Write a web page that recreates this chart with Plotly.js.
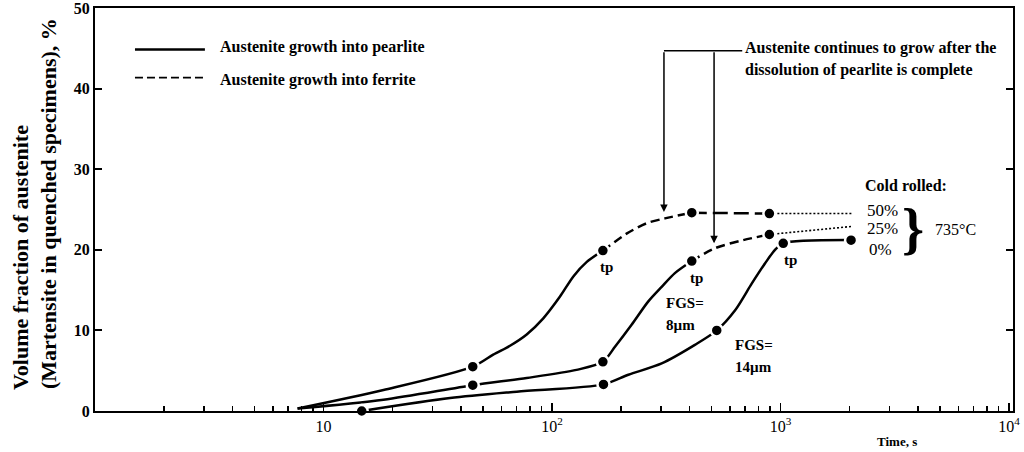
<!DOCTYPE html>
<html>
<head>
<meta charset="utf-8">
<script src="https://cdn.plot.ly/plotly-3.0.1.min.js"></script>
<style>
  html, body { margin: 0; padding: 0; background: #fff; }
  #chart { width: 1024px; height: 452px; }
</style>
</head>
<body>
<div id="chart"></div>
<script>
// Austenite formation at 735 °C, volume fraction vs. holding time (s)

// 50% cold rolled
const cr50SolidT  = [7.7, 18.3, 45, 55.3, 65.5, 77.5, 91.6, 108.4, 124, 142, 167];
const cr50SolidV  = [0.3, 2.6, 5.5, 7.0, 8.1, 9.5, 11.5, 14.2, 16.7, 18.5, 19.9];
const cr50DashT   = [167, 212, 260, 312, 409];
const cr50DashV   = [19.9, 22.0, 23.3, 23.9, 24.6];
const cr50LongT   = [409, 894];
const cr50LongV   = [24.6, 24.5];
const cr50DotT    = [894, 2050];
const cr50DotV    = [24.5, 24.5];
const cr50PtsT    = [45, 167, 409, 894];
const cr50PtsV    = [5.5, 19.9, 24.6, 24.5];

// 25% cold rolled
const cr25SolidT  = [7.7, 18.3, 45, 77.5, 128, 167, 189, 223, 264, 302, 345, 409];
const cr25SolidV  = [0.3, 1.4, 3.2, 4.1, 5.1, 6.1, 8.0, 10.7, 13.6, 15.4, 17.1, 18.6];
const cr25DashT   = [409, 517, 687, 894];
const cr25DashV   = [18.6, 20.2, 21.2, 21.9];
const cr25DotT    = [894, 2050];
const cr25DotV    = [21.9, 22.9];
const cr25PtsT    = [45, 167, 409, 894];
const cr25PtsV    = [3.2, 6.1, 18.6, 21.9];

// 0% cold rolled
const cr0SolidT   = [14.7, 35.8, 70.1, 168, 216, 302, 422, 526, 633, 748, 855, 946, 1028, 2036];
const cr0SolidV   = [0, 1.6, 2.4, 3.3, 4.5, 5.9, 8.2, 10.0, 12.5, 15.8, 18.3, 20.0, 20.8, 21.2];
const cr0PtsT     = [14.7, 168, 526, 1028, 2036];
const cr0PtsV     = [0, 3.3, 10.0, 20.8, 21.2];

// axis ticks
const xTickVals  = [10, 100, 1000, 10000];
const xTickText  = ['10', '10<sup>2</sup>', '10<sup>3</sup>', '10<sup>4</sup>'];
const yTickVals  = [0, 10, 20, 30, 40, 50];

const SERIF = 'Liberation Serif, Times New Roman, serif';
const LW = 2.5;

function curve(t, v, dash, width) {
  return {
    x: t, y: v, type: 'scatter', mode: 'lines',
    line: { color: '#000', width: width || LW, dash: dash, shape: 'spline', smoothing: 0.8 },
    hoverinfo: 'skip', showlegend: false, cliponaxis: false
  };
}
function points(t, v) {
  return {
    x: t, y: v, type: 'scatter', mode: 'markers',
    marker: { color: '#000', size: 12, line: { color: '#fff', width: 2.5 } },
    hoverinfo: 'skip', showlegend: false, cliponaxis: false
  };
}

const traces = [
  curve(cr50SolidT, cr50SolidV, 'solid'),
  curve(cr50DashT, cr50DashV, '9px,5px'),
  curve(cr50LongT, cr50LongV, '15px,6px'),
  curve(cr50DotT, cr50DotV, '2px,2px', 1.6),
  curve(cr25SolidT, cr25SolidV, 'solid'),
  curve(cr25DashT, cr25DashV, '9px,5px'),
  curve(cr25DotT, cr25DotV, '2px,2px', 1.6),
  curve(cr0SolidT, cr0SolidV, 'solid'),
  points(cr50PtsT, cr50PtsV),
  points(cr25PtsT, cr25PtsV),
  points(cr0PtsT, cr0PtsV)
];

// minor ticks at 2..9 of each decade
const minorVals = [];
for (let d = 1; d <= 1000; d *= 10) {
  for (let k = 2; k <= 9; k++) minorVals.push(k * d);
}

const lg = Math.log10;
const bold = (size) => ({ family: SERIF, size: size, color: '#000', weight: 'bold' });
const reg = (size) => ({ family: SERIF, size: size, color: '#000' });

function txt(x, y, text, font, xanchor) {
  return { x: lg(x), y: y, xref: 'x', yref: 'y', text: text, showarrow: false,
           font: font, xanchor: xanchor || 'center', yanchor: 'middle' };
}

const annotations = [
  // y-axis title, two lines
  { xref: 'paper', yref: 'paper', x: -0.0817, y: 0.382, text: 'Volume fraction of austenite',
    textangle: -90, showarrow: false, font: bold(22), xanchor: 'center', yanchor: 'middle' },
  { xref: 'paper', yref: 'paper', x: -0.0505, y: 0.515, text: '(Martensite in quenched specimens), %',
    textangle: -90, showarrow: false, font: bold(22), xanchor: 'center', yanchor: 'middle' },
  // x-axis title
  { xref: 'x', yref: 'paper', x: lg(3230), y: -0.076, text: 'Time, s', showarrow: false,
    font: bold(13), xanchor: 'center', yanchor: 'middle' },

  // key
  txt(3.45, 45.16, 'Austenite growth into pearlite', bold(16), 'left'),
  txt(3.45, 41.07, 'Austenite growth into ferrite', bold(16), 'left'),

  // note with arrows
  txt(682, 45.0, 'Austenite continues to grow after the', bold(16), 'left'),
  txt(682, 42.3, 'dissolution of pearlite is complete', bold(16), 'left'),
  { x: lg(309), y: 24.7, xref: 'x', yref: 'y', ax: lg(309), ay: 44.7, axref: 'x', ayref: 'y',
    text: '', showarrow: true, arrowhead: 2, arrowsize: 1, arrowwidth: 1.5, arrowcolor: '#000', standoff: 0 },
  { x: lg(512), y: 20.8, xref: 'x', yref: 'y', ax: lg(512), ay: 44.7, axref: 'x', ayref: 'y',
    text: '', showarrow: true, arrowhead: 2, arrowsize: 1, arrowwidth: 1.5, arrowcolor: '#000', standoff: 0 },

  // transition points
  txt(173, 17.9, 'tp', bold(15)),
  txt(430, 16.5, 'tp', bold(15)),
  txt(1102, 18.7, 'tp', bold(15)),

  // ferrite grain size
  txt(309, 13.4, 'FGS=', bold(15), 'left'),
  txt(309, 10.7, '8\u00b5m', bold(15), 'left'),
  txt(621, 8.2, 'FGS=', bold(15), 'left'),
  txt(621, 5.5, '14\u00b5m', bold(15), 'left'),

  // cold rolling labels
  txt(2300, 28.0, 'Cold rolled:', bold(16), 'left'),
  txt(2345, 24.9, '50%', reg(17), 'left'),
  txt(2345, 22.6, '25%', reg(17), 'left'),
  txt(2385, 20.0, '0%', reg(17), 'left'),
  txt(3800, 22.6, '}', bold(56)),
  txt(4645, 22.5, '735\u00b0C', reg(16), 'left')
];

const shapes = [
  // key samples
  { type: 'line', xref: 'x', yref: 'y', x0: 1.496, x1: 3.027, y0: 44.86, y1: 44.86,
    line: { color: '#000', width: 2.5 } },
  { type: 'line', xref: 'x', yref: 'y', x0: 1.496, x1: 3.027, y0: 41.35, y1: 41.35,
    line: { color: '#000', width: 1.8, dash: '8px,4px' } },
  // connector from the note to the arrows
  { type: 'line', xref: 'x', yref: 'y', x0: 309, x1: 680, y0: 44.7, y1: 44.7,
    line: { color: '#000', width: 1.5 } }
];

const layout = {
  width: 1024, height: 452,
  margin: { l: 95, r: 11, t: 8, b: 41 },
  paper_bgcolor: '#fff', plot_bgcolor: '#fff',
  showlegend: false,
  xaxis: {
    type: 'log', range: [0, 4.0175],
    tickmode: 'array', tickvals: xTickVals, ticktext: xTickText,
    ticks: 'inside', ticklen: 8, tickwidth: 1.5, tickcolor: '#000',
    minor: { tickmode: 'array', tickvals: minorVals, ticks: 'inside', ticklen: 5, tickwidth: 1.5, tickcolor: '#000', showgrid: false },
    showline: true, linewidth: 2, linecolor: '#000', mirror: true,
    showgrid: false, zeroline: false,
    ticklabeloverflow: 'allow',
    tickfont: reg(16)
  },
  yaxis: {
    range: [0, 50],
    tickmode: 'array', tickvals: yTickVals,
    ticks: 'inside', ticklen: 7, tickwidth: 2, tickcolor: '#000',
    showline: true, linewidth: 2, linecolor: '#000', mirror: 'ticks',
    showgrid: false, zeroline: false,
    ticklabeloverflow: 'allow',
    tickfont: bold(16)
  },
  annotations: annotations,
  shapes: shapes
};

Plotly.newPlot('chart', traces, layout, { displayModeBar: false, staticPlot: true });
</script>
</body>
</html>
